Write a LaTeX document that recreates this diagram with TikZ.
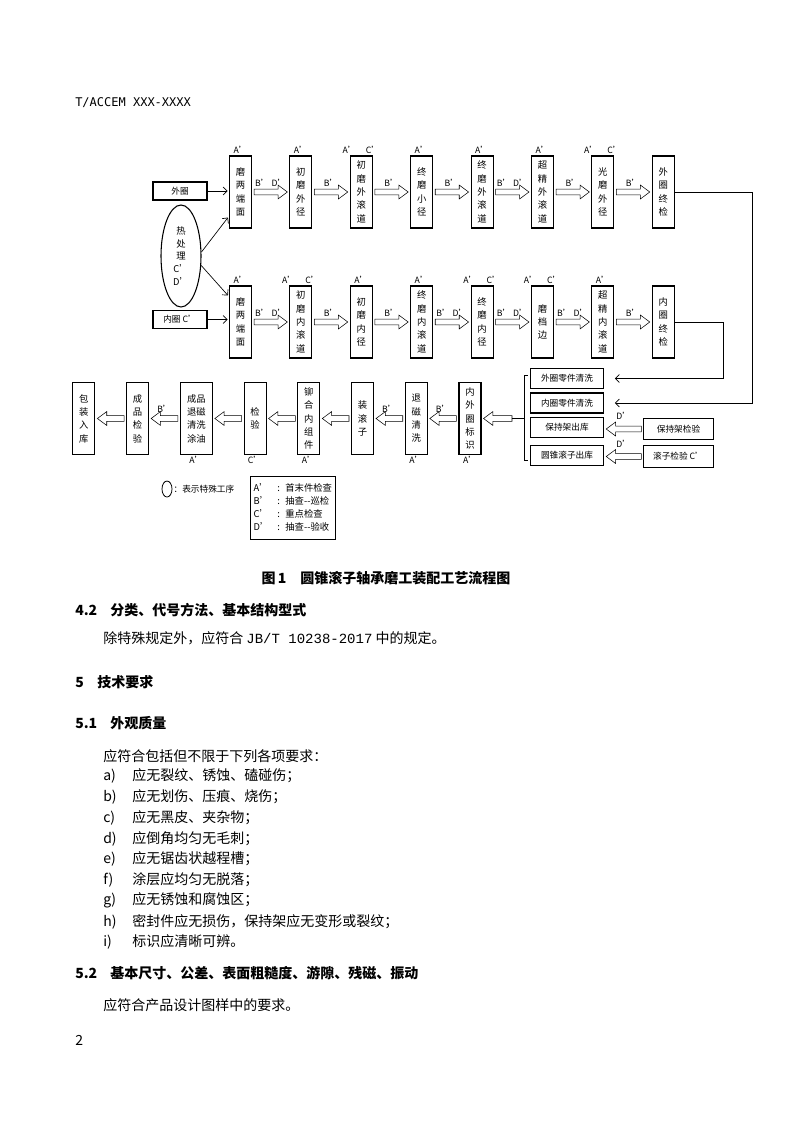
\documentclass[tikz,border=0pt]{standalone}
\usepackage{fontspec}
\setmainfont{Noto Sans CJK SC}
\newfontfamily\hdrfont{DejaVu Sans Mono}
\newfontfamily\codefont{Liberation Mono}
\usetikzlibrary{positioning,arrows.meta,shapes.geometric,calc}

\begin{document}
\begin{tikzpicture}[x=0.75pt,y=-0.75pt,
  vbox/.style={draw,line width=0.8pt,minimum width=16.5pt,minimum height=54pt,
               inner sep=0pt,align=center,font=\fontsize{7pt}{10pt}\selectfont},
  hbox/.style={draw,line width=0.8pt,minimum width=55pt,minimum height=15pt,
               inner sep=0pt,font=\fontsize{6.5pt}{8pt}\selectfont},
  lbl/.style={inner sep=1pt,font=\fontsize{6.5pt}{8pt}\selectfont},
  arr/.style={-{Straight Barb[length=3pt,width=6pt]},line width=0.5pt},
  blk/.style={line width=0.6pt,to path={
    let \p1=(\tikztostart),\p2=(\tikztotarget),\n1={(\x2>\x1)*2-1} in
    ({\x1+(\n1)*1.5pt},{\y1+2.2pt}) -- ({\x2-(\n1)*8.5pt},{\y1+2.2pt})
    -- ({\x2-(\n1)*8.5pt},{\y1+5.2pt}) -- ({\x2-(\n1)*1.5pt},\y1)
    -- ({\x2-(\n1)*8.5pt},{\y1-5.2pt}) -- ({\x2-(\n1)*8.5pt},{\y1-2.2pt})
    -- ({\x1+(\n1)*1.5pt},{\y1-2.2pt}) -- cycle}},
  body/.style={inner sep=0pt,anchor=west,font=\fontsize{10.5pt}{14pt}\selectfont},
  head/.style={body,font=\bfseries\fontsize{10.5pt}{14pt}\selectfont},
  node distance=28pt
]
\fill[white] (0,0) rectangle (793,1122);
\useasboundingbox (0,0) rectangle (793,1122);

% page header
\node[anchor=west,inner sep=0pt,font=\hdrfont\fontsize{9pt}{11pt}\selectfont] (hdr) at (75,103) {T/ACCEM XXX-XXXX};

% outer ring line
\node[hbox,minimum width=40.5pt,minimum height=13.5pt] (wq) at (180,191) {外圈};
\node[vbox,label={[lbl]above:A'}] (a1) at (240.5,192) {磨\\两\\端\\面};
\node[vbox,right=of a1,label={[lbl]above:A'}] (a2) {初\\磨\\外\\径};
\node[vbox,right=of a2,label={[lbl]above:A'\hspace{7pt}C'}] (a3) {初\\磨\\外\\滚\\道};
\node[vbox,right=of a3,label={[lbl]above:A'}] (a4) {终\\磨\\小\\径};
\node[vbox,right=of a4,label={[lbl]above:A'}] (a5) {终\\磨\\外\\滚\\道};
\node[vbox,right=of a5,label={[lbl]above:A'}] (a6) {超\\精\\外\\滚\\道};
\node[vbox,right=of a6,label={[lbl]above:A'\hspace{7pt}C'}] (a7) {光\\磨\\外\\径};
\node[vbox,right=of a7] (a8) {外\\圈\\终\\检};

% heat treatment
\node[draw,ellipse,line width=0.8pt,minimum width=30pt,minimum height=76.5pt,inner sep=0pt,
      align=center,font=\fontsize{7pt}{9.5pt}\selectfont] (ht) at (181,256) {热\\处\\理\\C'\\D'};

% inner ring line
\node[hbox,minimum width=40.5pt,minimum height=14pt] (nq) at (180,319.5) {内圈 C'};
\node[vbox,label={[lbl]above:A'}] (b1) at (240.5,322) {磨\\两\\端\\面};
\node[vbox,right=of b1,label={[lbl]above:A'\hspace{7pt}C'}] (b2) {初\\磨\\内\\滚\\道};
\node[vbox,right=of b2,label={[lbl]above:A'}] (b3) {初\\磨\\内\\径};
\node[vbox,right=of b3,label={[lbl]above:A'}] (b4) {终\\磨\\内\\滚\\道};
\node[vbox,right=of b4,label={[lbl]above:A'\hspace{7pt}C'}] (b5) {终\\磨\\内\\径};
\node[vbox,right=of b5,label={[lbl]above:A'\hspace{7pt}C'}] (b6) {磨\\档\\边};
\node[vbox,right=of b6,label={[lbl]above:A'}] (b7) {超\\精\\内\\滚\\道};
\node[vbox,right=of b7] (b8) {内\\圈\\终\\检};

% cleaning and parts
\node[hbox] (c1) at (567,378.5) {外圈零件清洗};
\node[hbox] (c2) at (567,403) {内圈零件清洗};
\node[hbox] (c3) at (567,427.5) {保持架出库};
\node[hbox] (c4) at (567,455.5) {圆锥滚子出库};
\node[hbox,minimum width=52pt,minimum height=16pt] (d1) at (678.5,429) {保持架检验};
\node[hbox,minimum width=52pt,minimum height=16pt] (d2) at (678.5,456.5) {滚子检验 C'};

% assembly line
\node[vbox,label={[lbl]below:A'}] (p8) at (470,418.5) {内\\外\\圈\\标\\识};
\node[vbox,left=23pt of p8,label={[lbl]below:A'}] (p7) {退\\磁\\清\\洗};
\node[vbox,left=23pt of p7] (p6) {装\\滚\\子};
\node[vbox,left=23pt of p6,label={[lbl]below:A'}] (p5) {铆\\合\\内\\组\\件};
\node[vbox,left=23pt of p5,label={[lbl]below:C'}] (p4) {检\\验};
\node[vbox,left=23pt of p4,minimum width=24pt,label={[lbl]below:A'}] (p3) {成品\\退磁\\清洗\\涂油};
\node[vbox,left=23pt of p3] (p2) {成\\品\\检\\验};
\node[vbox,left=23pt of p2] (p1) {包\\装\\入\\库};

% thin arrows
\draw[arr,shorten >=1pt] (wq) -- (wq -| a1.west);
\draw[arr] (ht.11) -- ($(a1.south west)+(-1,-11)$);
\draw[arr] (ht.-25) -- ($(b1.north west)+(-1,10)$);
\draw[arr,shorten >=1pt] (nq) -- (nq -| b1.west);
\draw[arr,shorten >=8pt] (a8.east) -- ++(77,0) |- (c2.east);
\draw[arr,shorten >=8pt] (b8.east) -- ++(48,0) |- (c1.east);

% block arrows, outer ring
\draw (a1.east) to[blk] (a2.west);
\path (a1) -- node[lbl,above=3pt] (ta12) {B' D'} (a2);
\draw (a2.east) to[blk] (a3.west);
\path (a2) -- node[lbl,above=3pt] (ta23) {B'} (a3);
\draw (a3.east) to[blk] (a4.west);
\path (a3) -- node[lbl,above=3pt] (ta34) {B'} (a4);
\draw (a4.east) to[blk] (a5.west);
\path (a4) -- node[lbl,above=3pt] (ta45) {B'} (a5);
\draw (a5.east) to[blk] (a6.west);
\path (a5) -- node[lbl,above=3pt] (ta56) {B' D'} (a6);
\draw (a6.east) to[blk] (a7.west);
\path (a6) -- node[lbl,above=3pt] (ta67) {B'} (a7);
\draw (a7.east) to[blk] (a8.west);
\path (a7) -- node[lbl,above=3pt] (ta78) {B'} (a8);

% block arrows, inner ring
\draw (b1.east) to[blk] (b2.west);
\path (b1) -- node[lbl,above=3pt] (tb12) {B' D'} (b2);
\draw (b2.east) to[blk] (b3.west);
\path (b2) -- node[lbl,above=3pt] (tb23) {B'} (b3);
\draw (b3.east) to[blk] (b4.west);
\path (b3) -- node[lbl,above=3pt] (tb34) {B'} (b4);
\draw (b4.east) to[blk] (b5.west);
\path (b4) -- node[lbl,above=3pt] (tb45) {B' D'} (b5);
\draw (b5.east) to[blk] (b6.west);
\path (b5) -- node[lbl,above=3pt] (tb56) {B' D'} (b6);
\draw (b6.east) to[blk] (b7.west);
\path (b6) -- node[lbl,above=3pt] (tb67) {B' D'} (b7);
\draw (b7.east) to[blk] (b8.west);
\path (b7) -- node[lbl,above=3pt] (tb78) {B'} (b8);

% parts into bracket
\draw (d1.west) to[blk] (c3.east);
\path (d1.west) -- node[lbl,above=5pt] (td1) {D'} (c3.east);
\draw (d2.west) to[blk] (c4.east);
\path (d2.west) -- node[lbl,above=5pt] (td2) {D'} (c4.east);
\draw ($(c1.west)+(-2,-3.5)$) -- ++(-4,0) |- ($(c4.west)+(-2,5)$);
\coordinate (brk) at (523.5,418.5);
\coordinate (brtail) at (512,418.5);
\draw (brk) -- (brtail);
\draw ([xshift=1.5pt]brtail) to[blk] (p8.east);

% block arrows, assembly
\draw (p8.west) to[blk] (p7.east);
\path (p8) -- node[lbl,above=3pt] (tp87) {B'} (p7);
\draw (p7.west) to[blk] (p6.east);
\path (p7) -- node[lbl,above=3pt] (tp76) {B'} (p6);
\draw (p6.west) to[blk] (p5.east);
\draw (p5.west) to[blk] (p4.east);
\draw (p4.west) to[blk] (p3.east);
\draw (p3.west) to[blk] (p2.east);
\path (p3) -- node[lbl,above=3pt] (tp32) {B'} (p2);
\draw (p2.west) to[blk] (p1.east);

% legend
\node[draw,ellipse,line width=0.6pt,minimum width=7.5pt,minimum height=12pt,inner sep=0pt] (sp) at (167,489) {};
\node[lbl,anchor=west] (spt) at (172,489) {：表示特殊工序};
\node[draw,line width=0.6pt,minimum width=63.75pt,minimum height=47.25pt,inner sep=2pt,anchor=north west,
      font=\fontsize{7pt}{9.75pt}\selectfont] (key) at (250,476)
  {\begin{tabular}{@{}l@{\hspace{6pt}}l@{\hspace{4pt}}l@{}}
   A' & : & 首末件检查\\ B' & : & 抽查-{}-巡检\\ C' & : & 重点检查\\ D' & : & 抽查-{}-验收
   \end{tabular}};

% page text
\node[head,anchor=center] (cap) at (386,578) {图\,1\quad 圆锥滚子轴承磨工装配工艺流程图};
\node[head] (h42) at (75,610) {\makebox[26.25pt][l]{4.2}分类、代号方法、基本结构型式};
\node[body] (t42) at (103,638) {除特殊规定外，应符合 {\codefont JB/T 10238-2017} 中的规定。};
\node[head] (h5) at (75,682) {\makebox[16.5pt][l]{5}技术要求};
\node[head] (h51) at (75,723) {\makebox[26.25pt][l]{5.1}外观质量};
\node[body] (t51) at (103,756) {应符合包括但不限于下列各项要求：};
\foreach \k/\txt [count=\i] in {a/应无裂纹、锈蚀、磕碰伤；,b/应无划伤、压痕、烧伤；,c/应无黑皮、夹杂物；,
    d/应倒角均匀无毛刺；,e/应无锯齿状越程槽；,f/涂层应均匀无脱落；,g/应无锈蚀和腐蚀区；,
    h/密封件应无损伤，保持架应无变形或裂纹；,i/标识应清晰可辨。}
  \node[body] (it\i) at (103,755.5+20.75*\i) {\makebox[21.75pt][l]{\k)}\txt};
\node[head] (h52) at (75,973) {\makebox[26.25pt][l]{5.2}基本尺寸、公差、表面粗糙度、游隙、残磁、振动};
\node[body] (t52) at (103,1005) {应符合产品设计图样中的要求。};
\node[body] (pgno) at (75,1040) {2};
\end{tikzpicture}
\end{document}
